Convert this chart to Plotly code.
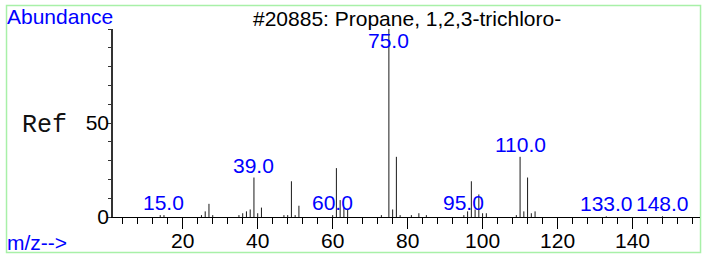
import plotly.graph_objects as go

# ---- data ----
mz = [14, 15, 25, 26, 27, 28, 35, 36, 37, 38, 39, 40, 41, 47, 48, 49, 50, 51,
      60, 61, 62, 63, 64, 73, 75, 76, 77, 78, 81, 83, 85, 95, 96, 97, 98, 99,
      100, 101, 109, 110, 111, 112, 113, 114, 133, 148]
abundance = [1, 1, 1, 3, 7, 1, 1, 2, 3, 4, 21, 2, 5, 1, 1, 19, 1, 6,
             1, 26, 9, 5, 4, 1, 100, 4, 32, 1, 1, 2, 1, 1, 3, 19, 4, 12,
             2, 2, 1, 32, 3, 21, 2, 3, 0.4, 0.4]
label_mz = [15, 39, 60, 75, 95, 110, 133, 148]
x_tick_vals = [20, 40, 60, 80, 100, 120, 140]
y_tick_vals = [0, 50]
title_text = "#20885: Propane, 1,2,3-trichloro-"

SANS = "Liberation Sans, Arial, sans-serif"
MONO = "Liberation Mono, Courier New, monospace"
BLUE = "#0000ff"
FS = 21

# stick spectrum built from the data arrays
xs, ys = [], []
for m, a in zip(mz, abundance):
    xs += [m, m, None]
    ys += [0, a, None]

fig = go.Figure()
fig.add_trace(go.Scatter(x=xs, y=ys, mode="lines",
                         line=dict(color="#1a1a1a", width=1),
                         hoverinfo="skip", showlegend=False))

ab = dict(zip(mz, abundance))
annotations = []
for m in label_mz:
    h = ab.get(m, 0)
    annotations.append(dict(x=m, y=min(h, 87.5), xref="x", yref="y",
                            text=f"{m:.1f}", showarrow=False,
                            yanchor="bottom", xanchor="center", yshift=-1,
                            font=dict(family=SANS, size=FS, color=BLUE)))

annotations += [
    dict(x=0.5, y=1.0585, xref="paper", yref="paper", text=title_text,
         showarrow=False, xanchor="center", yanchor="middle",
         font=dict(family=SANS, size=FS, color="black")),
    dict(x=-0.18, y=1.064, xref="paper", yref="paper", text="Abundance",
         showarrow=False, xanchor="left", yanchor="middle", xshift=-2,
         font=dict(family=SANS, size=FS, color=BLUE)),
    dict(x=-0.18, y=-0.133, xref="paper", yref="paper", text="m/z-->",
         showarrow=False, xanchor="left", yanchor="middle", xshift=-2,
         font=dict(family=SANS, size=FS, color=BLUE)),
    dict(x=-0.155, y=50, xref="paper", yref="y", text="Ref",
         showarrow=False, xanchor="left", yanchor="middle", xshift=-2,
         yshift=-2,
         font=dict(family=MONO, size=25, color="#111111")),
]

fig.update_layout(
    width=702, height=254,
    margin=dict(l=113, r=2, t=29, b=37, autoexpand=False),
    paper_bgcolor="white", plot_bgcolor="white",
    showlegend=False,
    annotations=annotations,
    shapes=[dict(type="rect", xref="paper", yref="paper",
                 x0=-0.1814, x1=1.0009, y0=-0.1888, y1=1.125,
                 line=dict(color="#a8f0a8", width=1.5), layer="below")],
    xaxis=dict(range=[1.4, 158.0], showgrid=False, zeroline=False,
               automargin=False,
               showline=True, linecolor="black", linewidth=1,
               tickmode="array", tickvals=x_tick_vals,
               ticks="outside", ticklen=11, tickcolor="black", tickwidth=1,
               ticklabelstandoff=-6,
               tickfont=dict(family=SANS, size=FS, color="black"),
               minor=dict(dtick=4, tick0=0, ticks="outside", ticklen=6,
                          tickcolor="black", tickwidth=1, showgrid=False)),
    yaxis=dict(range=[0, 100], showgrid=False, zeroline=False,
               automargin=False,
               showline=True, linecolor="#333333", linewidth=1.5,
               tickmode="array", tickvals=y_tick_vals,
               ticks="outside", ticklen=4, tickcolor="#333333", tickwidth=1,
               ticklabelstandoff=-6,
               tickfont=dict(family=SANS, size=FS, color="black"),
               minor=dict(dtick=10, tick0=0, ticks="outside", ticklen=3,
                          tickcolor="#333333", tickwidth=1, showgrid=False)),
)

fig.write_html("out.html", config={"displayModeBar": False},
               post_script="document.body.style.margin='0';")
